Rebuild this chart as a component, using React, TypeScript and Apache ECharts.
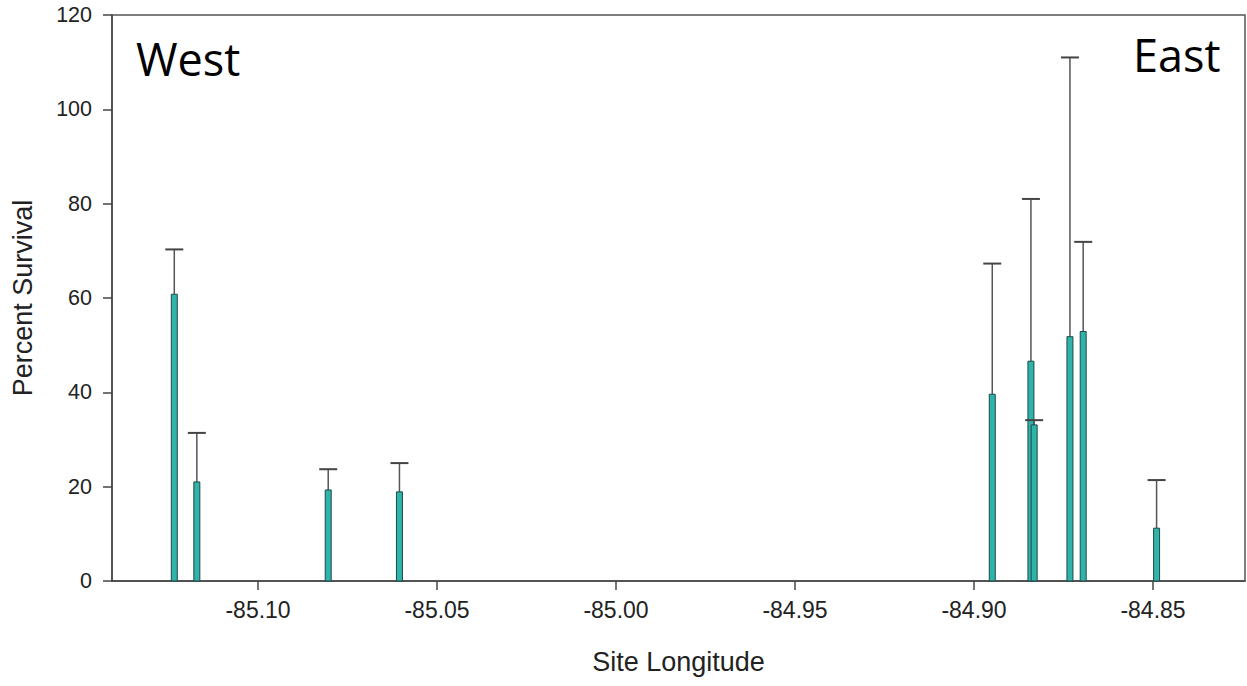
import React, { useEffect, useRef } from "react";
import * as echarts from "echarts";

const longitudes = [-85.1234, -85.1171, -85.0804, -85.0605, -84.8949, -84.8841, -84.8832, -84.8732, -84.8695, -84.849];
const survival = [60.8, 21.0, 19.3, 18.9, 39.6, 46.6, 33.1, 51.8, 52.9, 11.2];
const upperError = [70.3, 31.4, 23.7, 25.0, 67.3, 81.0, 34.1, 111.0, 71.9, 21.4];
const xTicks = [-85.1, -85.05, -85.0, -84.95, -84.9, -84.85];

export default function App() {
  const ref = useRef<HTMLDivElement>(null);
  useEffect(() => {
    document.body.style.margin = "0";
    const chart = echarts.init(ref.current!, null, { renderer: "svg" });
    const data = longitudes.map((lon, i) => [lon, survival[i], upperError[i]]);
    chart.setOption({
      animation: false,
      grid: {
        left: 112,
        right: 2,
        top: 15,
        bottom: 105,
        show: true,
        borderColor: "#555",
        borderWidth: 1.5,
      },
      xAxis: {
        type: "value",
        min: -85.1408,
        max: -84.8243,
        name: "Site Longitude",
        nameLocation: "middle",
        nameGap: 67,
        nameTextStyle: { fontFamily: "Liberation Sans", fontSize: 27, color: "#222" },
        axisLine: { show: true, lineStyle: { color: "#444", width: 1.5 } },
        axisTick: { show: true, length: 9, customValues: xTicks, lineStyle: { color: "#444", width: 1.5 } },
        axisLabel: {
          customValues: xTicks,
          formatter: (v: number) => v.toFixed(2),
          fontFamily: "Liberation Sans",
          fontSize: 23,
          color: "#222",
          margin: 17,
        },
        splitLine: { show: false },
      },
      yAxis: {
        type: "value",
        min: 0,
        max: 120,
        interval: 20,
        name: "Percent Survival",
        nameLocation: "middle",
        nameGap: 76,
        nameTextStyle: { fontFamily: "Liberation Sans", fontSize: 27, color: "#222" },
        axisLine: { show: true, lineStyle: { color: "#444", width: 1.5 } },
        axisTick: { show: true, length: 9, lineStyle: { color: "#444", width: 1.5 } },
        axisLabel: { fontFamily: "Liberation Sans", fontSize: 21.5, color: "#222", margin: 20 },
        splitLine: { show: false },
      },
      graphic: [
        {
          type: "text",
          left: 136,
          top: 36,
          style: { text: "West", fontFamily: "Open Sans", fontSize: 45, fill: "#000" },
        },
        {
          type: "text",
          left: 1133,
          top: 32,
          style: { text: "East", fontFamily: "Open Sans", fontSize: 45, fill: "#000" },
        },
      ],
      series: [
        {
          type: "custom",
          data,
          encode: { x: 0, y: 1 },
          renderItem: (params: any, api: any) => {
            const x = api.value(0);
            const y = api.value(1);
            const e = api.value(2);
            const top = api.coord([x, y]);
            const base = api.coord([x, 0]);
            const cap = api.coord([x, e]);
            const w = 6;
            const cw = 18;
            return {
              type: "group",
              children: [
                {
                  type: "line",
                  shape: { x1: top[0], y1: top[1], x2: cap[0], y2: cap[1] },
                  style: { stroke: "#555", lineWidth: 1.5 },
                },
                {
                  type: "line",
                  shape: { x1: cap[0] - cw / 2, y1: cap[1], x2: cap[0] + cw / 2, y2: cap[1] },
                  style: { stroke: "#444", lineWidth: 2 },
                },
                {
                  type: "rect",
                  shape: { x: top[0] - w / 2, y: top[1], width: w, height: base[1] - top[1] },
                  style: { fill: "#2fb3aa", stroke: "#1d4a47", lineWidth: 1 },
                },
              ],
            };
          },
        },
      ],
    });
    return () => chart.dispose();
  }, []);
  return <div ref={ref} style={{ width: 1247, height: 686 }} />;
}
